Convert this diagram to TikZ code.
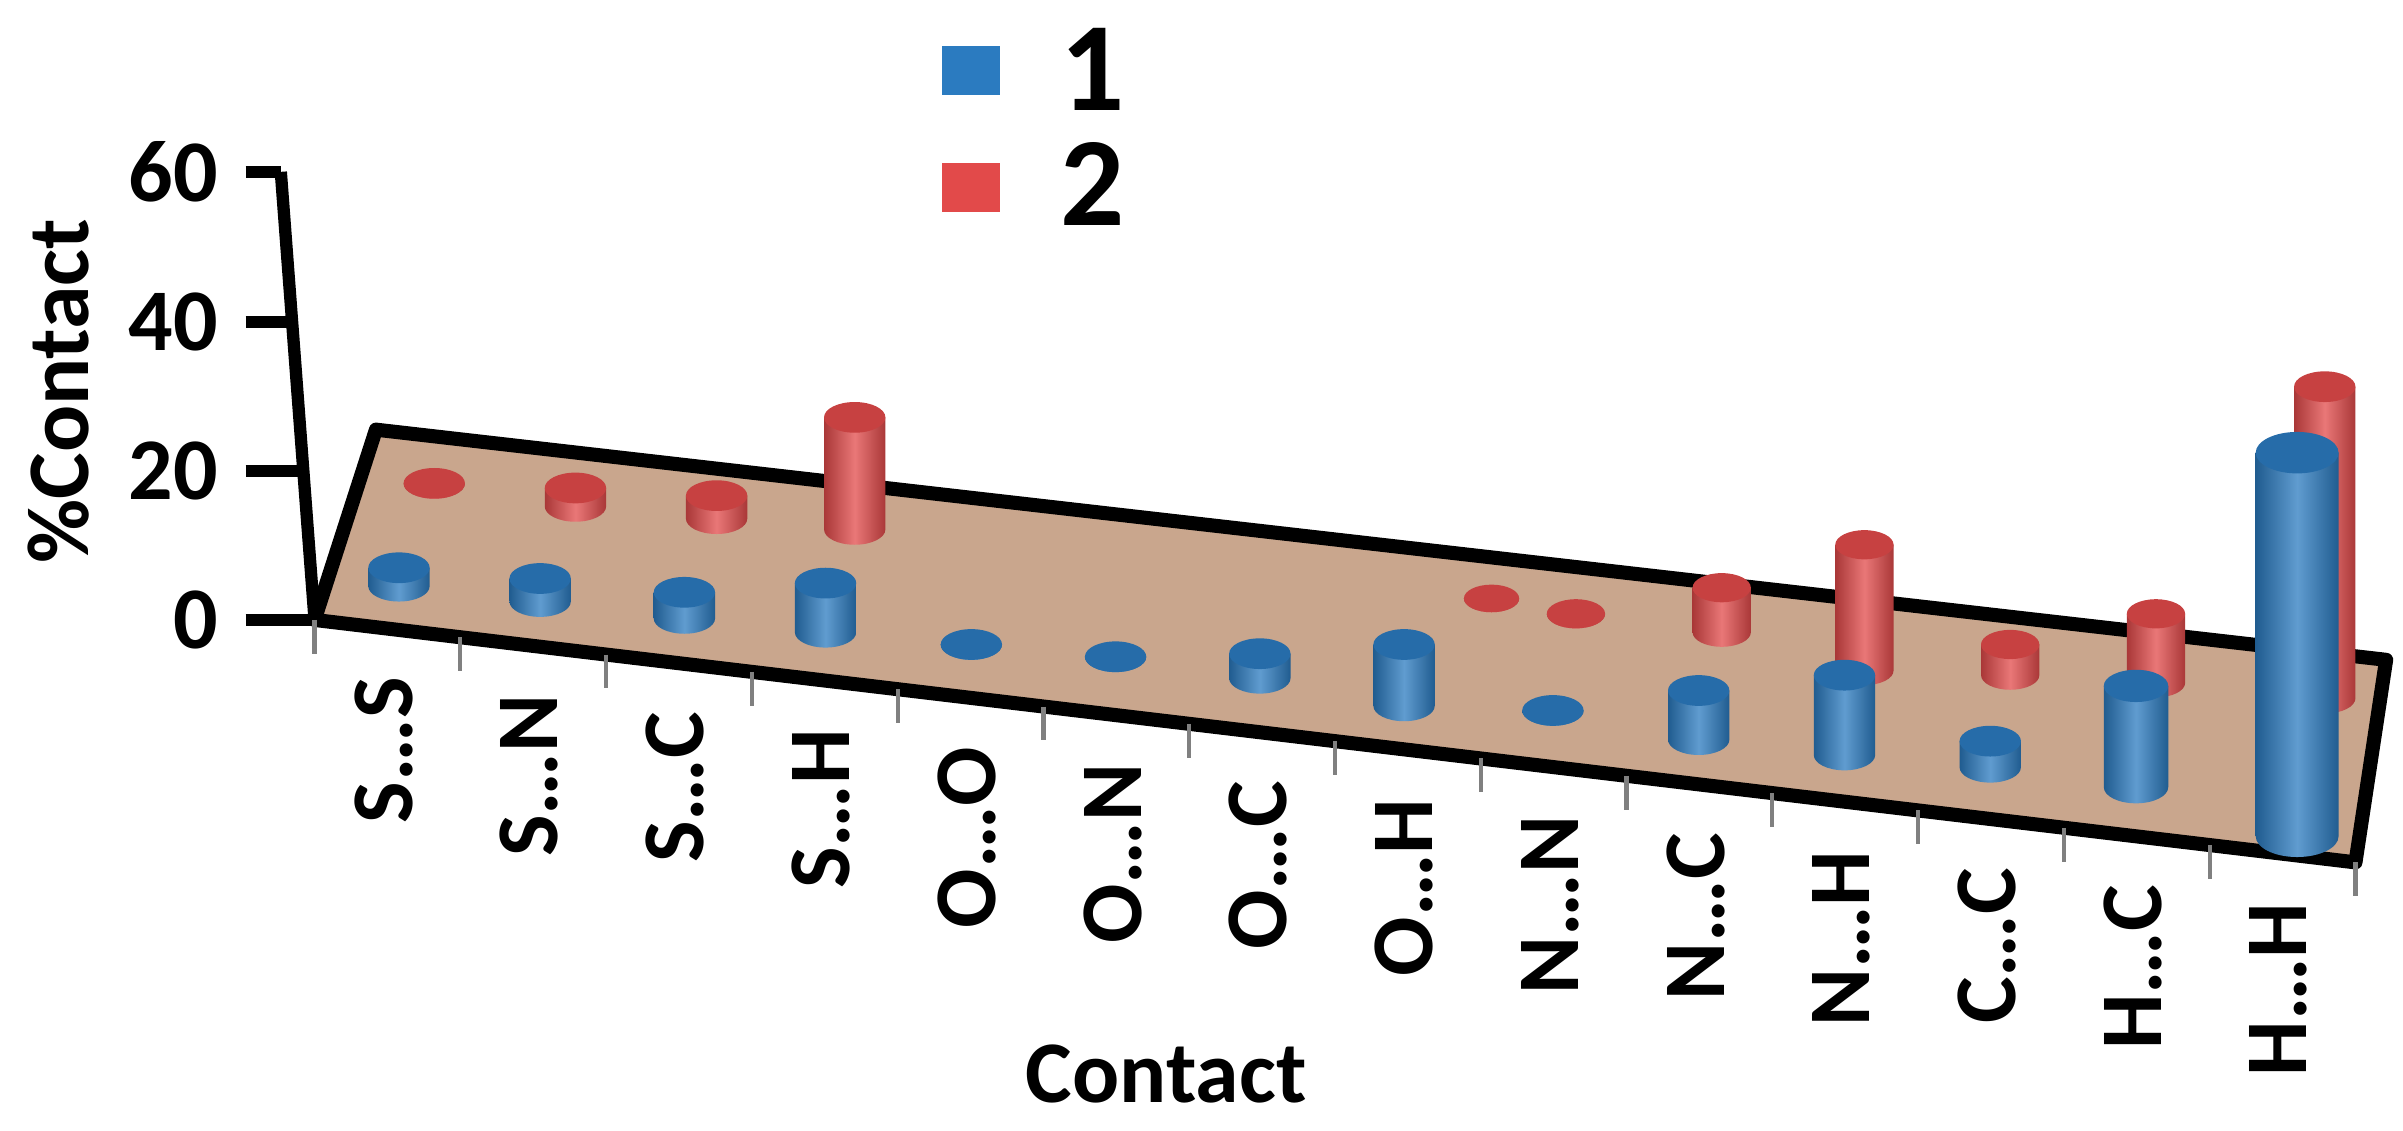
\documentclass[tikz,border=0pt]{standalone}
\usepackage{fontspec}
\setmainfont{Carlito}
\begin{document}
\definecolor{cb}{HTML}{2B7BC0}
\definecolor{cr}{HTML}{E24A4A}
\definecolor{fl}{HTML}{C9A68D}
\newcommand\mycyl[5]{%
 \path[left color=#5!75!black, right color=#5!75!black, middle color=#5!75!white]
   (#1-#4,#2) -- (#1-#4,#3) arc[start angle=180,end angle=360,x radius={#4*0.01534cm},y radius={#4*0.00767cm}] -- (#1+#4,#2) -- cycle;
 \fill[#5!88!black] (#1,#2) ellipse[x radius={#4*0.01534cm},y radius={#4*0.00767cm}];}
\begin{tikzpicture}[x=0.01534cm,y=-0.01534cm,
  lab/.style={font=\bfseries\fontsize{25}{30}\selectfont},
  axl/.style={line width=3.5pt}]
\useasboundingbox (0,0) rectangle (1566,736.5);
% floor
\filldraw[fill=fl,line width=4pt,line join=round] (205,404) -- (245,280) -- (1555,430) -- (1535,562) -- cycle;
% axis
\draw[axl] (205,404) -- (183,112);
\foreach \yy/\t [count=\k] in {112/60,210/40,307/20,404/0}{
  \pgfmathsetmacro\ax{183+0.0753*(\yy-112)}
  \draw[axl] (160,\yy) -- (\ax,\yy);
  \node[lab,anchor=east] (t\k) at (150,\yy) {\t};}
\node[lab,rotate=90] (ylab) at (38,255) {\%Contact};
% ticks and labels
\foreach \l [count=\i from 0] in {S…S,S…N,S…C,S…H,O…O,O…N,O…C,O…H,N…N,N…C,N…H,C…C,H…C,H…H}{
  \pgfmathsetmacro\tx{205+95*\i}
  \pgfmathsetmacro\ty{404+(\tx-205)*0.1188}
  \draw[gray,line width=1.2pt] (\tx,\ty) -- (\tx,\ty+22);
  \pgfmathsetmacro\lx{250+95*\i}
  \pgfmathsetmacro\ly{428+(\lx-205)*0.1188}
  \node[lab,rotate=90,anchor=east] (c\i) at (\lx,\ly) {\l};}
\pgfmathsetmacro\tx{205+95*14}\pgfmathsetmacro\ty{404+(\tx-205)*0.1188}
\draw[gray,line width=1.2pt] (\tx,\ty) -- (\tx,\ty+22);
\node[lab] (xlab) at (760,700) {Contact};
% red
\foreach \x/\t/\b/\r in {283/315/315/20,375/318/330/20,467/323/338/20,557/272/345/20,972/390/390/18,1027/400/400/19,1122/383/412/19,1215/355/437/19,1310/420/440/19,1405/400/445/19,1515/252/455/20}{\mycyl{\x}{\t}{\b}{\r}{cr}}
% blue
\foreach \x/\t/\b/\r in {260/370/382/20,352/377/392/20,446/386/403/20,538/380/412/20,633/420/420/20,727/428/428/20,821/426/442/20,915/420/460/20,1012/463/463/20,1107/450/482/20,1202/440/492/20,1297/483/500/20,1392/447/513/21,1497/295/545/27}{\mycyl{\x}{\t}{\b}{\r}{cb}}
% legend
\fill[cb] (614,30) rectangle (652,62);
\node[font=\bfseries\fontsize{36}{40}\selectfont] (l1) at (712,45) {1};
\fill[cr] (614,106) rectangle (652,138);
\node[font=\bfseries\fontsize{36}{40}\selectfont] (l2) at (712,120) {2};
\end{tikzpicture}
\end{document}
